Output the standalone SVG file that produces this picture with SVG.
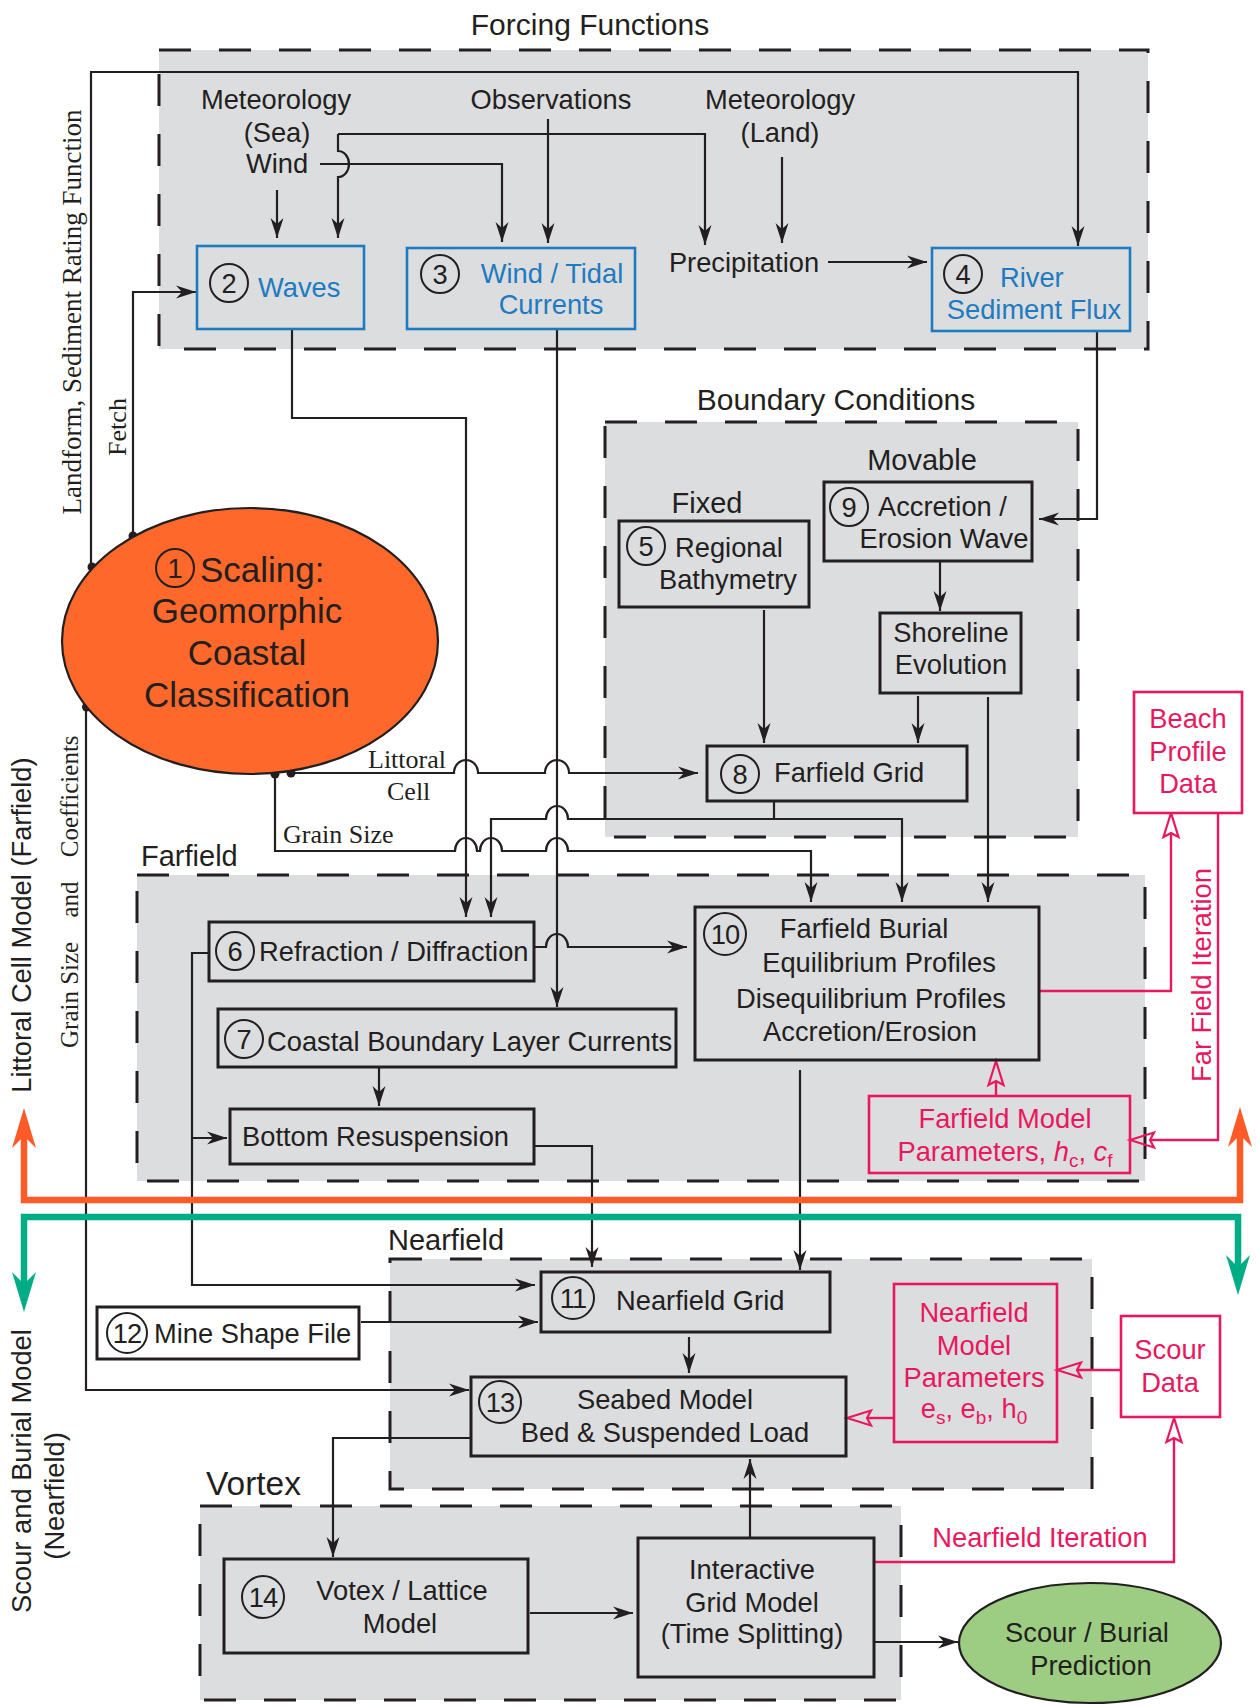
<svg xmlns="http://www.w3.org/2000/svg" width="1257" height="1706" viewBox="0 0 1257 1706">
<style>
text{font-family:"Liberation Sans",Arial,sans-serif;font-size:27.3px;fill:#231f20}
.sf{font-family:"Liberation Serif","Times New Roman",serif;font-size:26px}
.m{text-anchor:middle}
.blt{fill:#1f7bc0}
.pkt{fill:#e8185f}
.lbl{font-size:29px}
.big{font-size:35px}
.reg{fill:#dcdddf;stroke:#231f20;stroke-width:3;stroke-dasharray:32 28}
.b{fill:none;stroke:#231f20;stroke-width:3}
.bw{fill:#fff;stroke:#231f20;stroke-width:3}
.bl{fill:none;stroke:#1f7bc0;stroke-width:2.6}
.pk{fill:#fff;stroke:#e8185f;stroke-width:2.6}
.pkn{fill:none;stroke:#e8185f;stroke-width:2.6}
.n{fill:none;stroke:#231f20;stroke-width:2}
.c{fill:none;stroke:#231f20;stroke-width:2.2;stroke-linejoin:miter}
.cp{fill:none;stroke:#e8185f;stroke-width:2.4}
.ca{marker-end:url(#a)}
.cpa{marker-end:url(#p)}
.dot{fill:#231f20}
</style>
<defs>
<marker id="a" markerUnits="userSpaceOnUse" viewBox="-21 -8 23 16" refX="0" refY="0" markerWidth="23" markerHeight="16" orient="auto">
<path d="M0,0 L-20,-6.5 L-14,0 L-20,6.5 Z" fill="#231f20"/>
</marker>
<marker id="p" markerUnits="userSpaceOnUse" viewBox="-8 -10 32 20" refX="0" refY="0" markerWidth="32" markerHeight="20" orient="auto">
<path d="M20,0 L-4,-7.5 L0,0 L-4,7.5 Z" fill="none" stroke="#e8185f" stroke-width="2.2"/>
</marker>
<marker id="o" markerUnits="userSpaceOnUse" viewBox="-16 -14 48 28" refX="0" refY="0" markerWidth="48" markerHeight="28" orient="auto-start-reverse">
<path d="M28,0 L-12,-12 L0,0 L-12,12 Z" fill="#ff5a28"/>
</marker>
<marker id="g" markerUnits="userSpaceOnUse" viewBox="-16 -14 48 28" refX="0" refY="0" markerWidth="48" markerHeight="28" orient="auto-start-reverse">
<path d="M28,0 L-12,-12 L0,0 L-12,12 Z" fill="#00ad84"/>
</marker>
</defs>
<rect width="1257" height="1706" fill="#fff"/>

<g id="regions">
<rect class="reg" x="159" y="50" width="989" height="299"/>
<rect class="reg" x="605" y="422" width="473" height="415"/>
<rect class="reg" x="137" y="875" width="1008" height="306"/>
<rect class="reg" x="390" y="1259" width="702" height="230"/>
<rect class="reg" x="200" y="1506" width="701" height="194"/>
<text x="590" y="35" class="m" style="font-size:30px">Forcing Functions</text>
<text x="836" y="410" class="m" style="font-size:30px">Boundary Conditions</text>
<text x="922" y="470" class="m lbl">Movable</text>
<text x="707" y="513" class="m lbl">Fixed</text>
<text x="141" y="866" class="lbl">Farfield</text>
<text x="388" y="1250" class="lbl">Nearfield</text>
<text x="206" y="1495" style="font-size:33.5px">Vortex</text>
</g>

<g id="connectors">
<path class="c ca" d="M277,190 V238"/>
<path class="c ca" d="M338,134 H705 V245"/>
<path class="c ca" d="M338,134 V151 A11,13 0 0 1 338,177 V238"/>
<path class="c ca" d="M320,164 H502 V242"/>
<path class="c ca" d="M548,119 V243"/>
<path class="c ca" d="M782,157 V243"/>
<path class="c ca" d="M828,262 H927"/>
<path class="c ca" d="M91,567 V72 H1078 V246"/>
<path class="c ca" d="M133,536 V292 H196"/>
<path class="c ca" d="M1097,332 V519 H1039"/>
<path class="c ca" d="M292,329 V418 H466 V917"/>
<path class="c ca" d="M557,329 V1007"/>
<path class="c ca" d="M291,773 H454 A12,13 0 0 1 478,773 H545 A12,13 0 0 1 569,773 H698"/>
<path class="c ca" d="M275,774 V851 H455 A11,13 0 0 1 477,851 H480 A11,13 0 0 1 502,851 H546 A11,13 0 0 1 568,851 H811 V902"/>
<path class="c ca" d="M774,801 V819 H902 V902"/>
<path class="c ca" d="M774,819 H568 A11,13 0 0 0 546,819 H491 V917"/>
<path class="c ca" d="M764,610 V743"/>
<path class="c ca" d="M940,561 V611"/>
<path class="c ca" d="M918,696 V743"/>
<path class="c ca" d="M988,697 V902"/>
<path class="c ca" d="M534,947 H546 A11,13 0 0 1 568,947 H687"/>
<path class="c ca" d="M209,953 H192 V1285 H535"/>
<path class="c ca" d="M192,1138 H227"/>
<path class="c ca" d="M534,1146 H592 V1267"/>
<path class="c ca" d="M379,1068 V1106"/>
<path class="c ca" d="M800,1070 V1270"/>
<path class="c ca" d="M361,1322 H538"/>
<path class="c ca" d="M86,707 V1390 H469"/>
<path class="c ca" d="M689,1337 V1373"/>
<path class="c ca" d="M471,1438 H333 V1557"/>
<path class="c ca" d="M530,1613 H633"/>
<path class="c ca" d="M750,1538 V1459"/>
<path class="c ca" d="M874,1642 H958"/>
<path class="cp cpa" d="M1039,991 H1171 V833"/>
<path class="cp cpa" d="M1218,813 V1140 H1150"/>
<path class="cp cpa" d="M996,1096 V1081"/>
<path class="cp cpa" d="M894,1418 H867"/>
<path class="cp cpa" d="M1121,1370 H1077"/>
<path class="cp cpa" d="M874,1562 H1174 V1438"/>
<path d="M24,1136 V1200 H1240 V1135" fill="none" stroke="#ff5a28" stroke-width="6.5" marker-start="url(#o)" marker-end="url(#o)"/>
<path d="M24,1284 V1217 H1238 V1267" fill="none" stroke="#00ad84" stroke-width="6.5" marker-start="url(#g)" marker-end="url(#g)"/>
<circle class="dot" cx="92" cy="567" r="4.5"/>
<circle class="dot" cx="133" cy="536" r="4.5"/>
<circle class="dot" cx="86.5" cy="707" r="4.5"/>
<circle class="dot" cx="275" cy="774" r="4.5"/>
<circle class="dot" cx="291" cy="773" r="4.5"/>
<text class="sf" x="368" y="768">Littoral</text>
<text class="sf" x="387" y="800">Cell</text>
<text class="sf" x="283" y="843">Grain Size</text>
<text class="sf m" style="font-size:27px" transform="translate(81,312) rotate(-90)">Landform, Sediment Rating Function</text>
<text class="sf m" transform="translate(126,427) rotate(-90)">Fetch</text>
<text class="sf" style="font-size:25px" transform="translate(78,1048) rotate(-90)">Grain Size<tspan dx="18"> and</tspan><tspan dx="18"> Coefficients</tspan></text>
<text class="m" transform="translate(31,925) rotate(-90)">Littoral Cell Model (Farfield)</text>
<text class="m" transform="translate(31,1471) rotate(-90)">Scour and Burial Model</text>
<text class="m" transform="translate(64,1496) rotate(-90)">(Nearfield)</text>
<text class="m pkt" transform="translate(1211,975) rotate(-90)">Far Field Iteration</text>
<text class="m pkt" x="1040" y="1547">Nearfield Iteration</text>
</g>

<g id="forcing-inputs">
<text class="m" x="276" y="109">Meteorology</text>
<text class="m" x="277" y="142">(Sea)</text>
<text class="m" x="277" y="173">Wind</text>
<text class="m" x="551" y="109">Observations</text>
<text class="m" x="780" y="109">Meteorology</text>
<text class="m" x="780" y="142">(Land)</text>
<text class="m" x="744" y="272">Precipitation</text>
</g>

<g id="n1">
<ellipse cx="250" cy="641" rx="188" ry="133" fill="#fe682b" stroke="#231f20" stroke-width="2.2"/>
<circle class="n" cx="175" cy="568" r="19"/>
<text class="m" x="175" y="578">1</text>
<text class="big" x="200" y="582">Scaling:</text>
<text class="m big" x="247" y="623">Geomorphic</text>
<text class="m big" x="247" y="665">Coastal</text>
<text class="m big" x="247" y="707">Classification</text>
</g>

<g id="n2">
<rect class="bl" x="197" y="246" width="167" height="83"/>
<circle class="n" cx="229" cy="283" r="19"/>
<text class="m" x="229" y="293">2</text>
<text class="blt" x="258" y="297">Waves</text>
</g>

<g id="n3">
<rect class="bl" x="407" y="248" width="228" height="81"/>
<circle class="n" cx="440" cy="274" r="19"/>
<text class="m" x="440" y="284">3</text>
<text class="m blt" x="552" y="283">Wind / Tidal</text>
<text class="m blt" x="551" y="314">Currents</text>
</g>

<g id="n4">
<rect class="bl" x="932" y="248" width="198" height="83"/>
<circle class="n" cx="963" cy="274" r="19"/>
<text class="m" x="963" y="284">4</text>
<text class="blt" x="1000" y="287">River</text>
<text class="m blt" x="1034" y="319">Sediment Flux</text>
</g>

<g id="n5">
<rect class="b" x="619" y="521" width="190" height="86"/>
<circle class="n" cx="646" cy="546" r="19"/>
<text class="m" x="646" y="556">5</text>
<text x="675" y="557">Regional</text>
<text class="m" x="728" y="589">Bathymetry</text>
</g>

<g id="n9">
<rect class="b" x="824" y="482" width="208" height="79"/>
<circle class="n" cx="849" cy="507" r="19"/>
<text class="m" x="849" y="517">9</text>
<text x="878" y="516">Accretion /</text>
<text class="m" x="944" y="548">Erosion Wave</text>
</g>

<g id="shoreline">
<rect class="b" x="880" y="613" width="141" height="80"/>
<text class="m" x="951" y="642">Shoreline</text>
<text class="m" x="951" y="674">Evolution</text>
</g>

<g id="n8">
<rect class="b" x="707" y="746" width="260" height="55"/>
<circle class="n" cx="740" cy="774" r="19"/>
<text class="m" x="740" y="784">8</text>
<text x="774" y="782">Farfield Grid</text>
</g>

<g id="beach">
<rect class="pk" x="1134" y="692" width="108" height="121"/>
<text class="m pkt" x="1188" y="728">Beach</text>
<text class="m pkt" x="1188" y="761">Profile</text>
<text class="m pkt" x="1188" y="793">Data</text>
</g>

<g id="n6">
<rect class="b" x="209" y="922" width="325" height="59"/>
<circle class="n" cx="235" cy="951" r="19"/>
<text class="m" x="235" y="961">6</text>
<text x="259" y="961">Refraction / Diffraction</text>
</g>

<g id="n7">
<rect class="b" x="218" y="1009" width="458" height="58"/>
<circle class="n" cx="244" cy="1039" r="19"/>
<text class="m" x="244" y="1049">7</text>
<text x="267" y="1051">Coastal Boundary Layer Currents</text>
</g>

<g id="bottom">
<rect class="b" x="230" y="1109" width="304" height="55"/>
<text x="242" y="1146">Bottom Resuspension</text>
</g>

<g id="n10">
<rect class="b" x="695" y="907" width="344" height="153"/>
<circle class="n" cx="725" cy="934" r="21"/>
<text class="m" x="725" y="944" letter-spacing="-1">10</text>
<text class="m" x="864" y="938">Farfield Burial</text>
<text class="m" x="879" y="972">Equilibrium Profiles</text>
<text class="m" x="871" y="1008">Disequilibrium Profiles</text>
<text class="m" x="870" y="1041">Accretion/Erosion</text>
</g>

<g id="farfield-params">
<rect class="pkn" x="869" y="1096" width="261" height="77"/>
<text class="m pkt" x="1005" y="1128">Farfield Model</text>
<text class="m pkt" x="1005" y="1161">Parameters, <tspan font-style="italic">h</tspan><tspan style="font-size:19px" dy="6">c</tspan><tspan dy="-6">, </tspan><tspan font-style="italic">c</tspan><tspan style="font-size:19px" dy="6">f</tspan></text>
</g>

<g id="n11">
<rect class="b" x="541" y="1272" width="289" height="60"/>
<circle class="n" cx="573" cy="1298" r="21"/>
<text class="m" x="573" y="1308" letter-spacing="-1">11</text>
<text x="616" y="1310">Nearfield Grid</text>
</g>

<g id="n12">
<rect class="bw" x="97" y="1307" width="262" height="52"/>
<circle class="n" cx="127" cy="1333" r="20"/>
<text class="m" x="127" y="1343" letter-spacing="-1">12</text>
<text x="154" y="1343">Mine Shape File</text>
</g>

<g id="n13">
<rect class="b" x="471" y="1377" width="375" height="79"/>
<circle class="n" cx="500" cy="1402" r="21"/>
<text class="m" x="500" y="1412" letter-spacing="-1">13</text>
<text class="m" x="665" y="1409">Seabed Model</text>
<text class="m" x="665" y="1442">Bed &amp; Suspended Load</text>
</g>

<g id="nearfield-params">
<rect class="pkn" x="894" y="1284" width="163" height="158"/>
<text class="m pkt" x="974" y="1322">Nearfield</text>
<text class="m pkt" x="974" y="1355">Model</text>
<text class="m pkt" x="974" y="1387">Parameters</text>
<text class="m pkt" x="974" y="1418">e<tspan style="font-size:19px" dy="6">s</tspan><tspan dy="-6">, e</tspan><tspan style="font-size:19px" dy="6">b</tspan><tspan dy="-6">, h</tspan><tspan style="font-size:19px" dy="6">0</tspan></text>
</g>

<g id="scour-data">
<rect class="pk" x="1121" y="1316" width="99" height="101"/>
<text class="m pkt" x="1170" y="1359">Scour</text>
<text class="m pkt" x="1170" y="1392">Data</text>
</g>

<g id="n14">
<rect class="b" x="224" y="1559" width="304" height="94"/>
<circle class="n" cx="263" cy="1597" r="21"/>
<text class="m" x="263" y="1607" letter-spacing="-1">14</text>
<text class="m" x="402" y="1600">Votex / Lattice</text>
<text class="m" x="400" y="1633">Model</text>
</g>

<g id="interactive">
<rect class="b" x="638" y="1538" width="236" height="139"/>
<text class="m" x="752" y="1579">Interactive</text>
<text class="m" x="752" y="1612">Grid Model</text>
<text class="m" x="752" y="1643">(Time Splitting)</text>
</g>

<g id="prediction">
<ellipse cx="1090" cy="1643" rx="131" ry="60" fill="#9ccd82" stroke="#231f20" stroke-width="2.2"/>
<text class="m" x="1087" y="1642">Scour / Burial</text>
<text class="m" x="1091" y="1675">Prediction</text>
</g>
</svg>
